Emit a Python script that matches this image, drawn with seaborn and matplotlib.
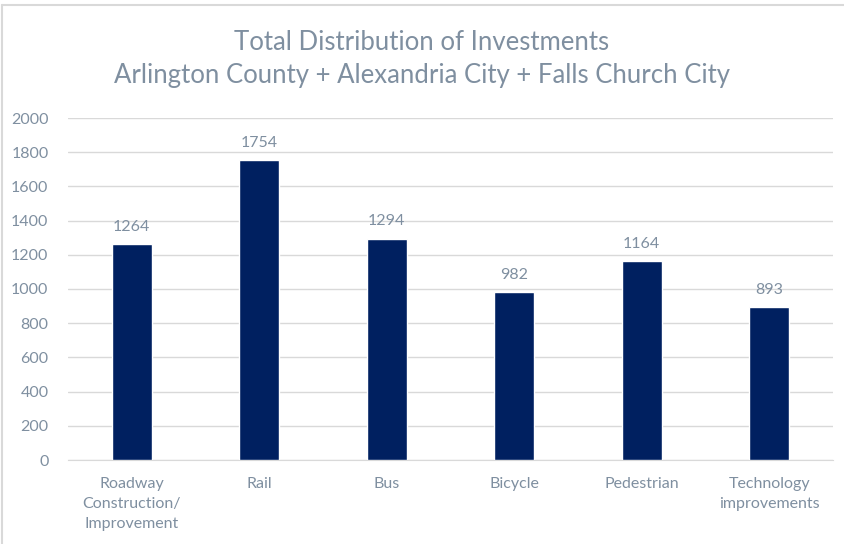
import matplotlib
matplotlib.use('Agg')
import matplotlib.pyplot as plt
import seaborn as sns
import pandas as pd
from matplotlib.lines import Line2D

categories = ['Roadway\nConstruction/\nImprovement', 'Rail', 'Bus', 'Bicycle',
              'Pedestrian', 'Technology\nimprovements']
investments = [1264, 1754, 1294, 982, 1164, 893]

data = pd.DataFrame({'Category': categories, 'Investment': investments})

sns.set_style('white')
plt.rcParams['font.family'] = ['Lato', 'DejaVu Sans']

text_col = '#7f8fa0'
bar_col = '#002060'

fig = plt.figure(figsize=(8.44, 5.44), dpi=100)
ax = fig.add_axes([68 / 844, 1 - 460 / 544, (833 - 68) / 844, (460 - 118) / 544])

sns.barplot(x='Category', y='Investment', data=data, color=bar_col,
            width=0.31, saturation=1, ax=ax, zorder=3)

# value labels above bars
for i, v in enumerate(investments):
    ax.text(i, v + 60, str(v), ha='center', va='bottom', fontsize=11.5, color=text_col)

ax.set_ylim(0, 2000)
ax.set_xlim(-0.5, 5.5)
ax.set_yticks(range(0, 2001, 200))
ax.yaxis.grid(True, color='#d9d9d9', linewidth=1, zorder=0)
ax.set_axisbelow(True)
for s in ['top', 'right', 'left']:
    ax.spines[s].set_visible(False)
ax.spines['bottom'].set_color('#d9d9d9')
ax.tick_params(axis='both', length=0, labelsize=11.5, colors=text_col)
ax.tick_params(axis='x', pad=12)
ax.tick_params(axis='y', pad=14)
ax.set_xlabel('')
ax.set_ylabel('')
for lab in ax.get_xticklabels():
    lab.set_linespacing(1.55)

fig.text(0.5, 1 - 42 / 544, 'Total Distribution of Investments', ha='center', va='center',
         fontsize=18.5, color=text_col)
fig.text(0.5, 1 - 75 / 544, 'Arlington County + Alexandria City + Falls Church City',
         ha='center', va='center', fontsize=18.5, color=text_col)

# chart frame edges (left and top)
fig.add_artist(Line2D([2 / 844, 2 / 844], [0, 1 - 5 / 544], transform=fig.transFigure,
                      color='#d9d9d9', linewidth=1.5))
fig.add_artist(Line2D([2 / 844, 1], [1 - 5 / 544, 1 - 5 / 544], transform=fig.transFigure,
                      color='#d9d9d9', linewidth=1.5))

fig.savefig('out.png', dpi=100)
